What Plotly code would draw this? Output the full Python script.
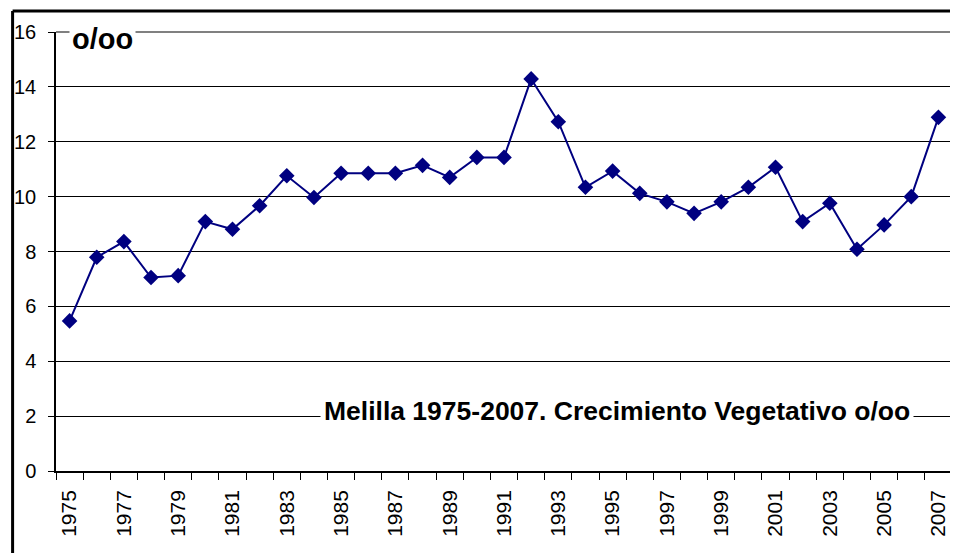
import plotly.graph_objects as go

years = list(range(1975, 2008))
values = [5.47, 7.79, 8.36, 7.05, 7.12, 9.09, 8.81, 9.67, 10.76, 9.97,
          10.85, 10.85, 10.85, 11.14, 10.70, 11.43, 11.43, 14.29, 12.73, 10.34,
          10.93, 10.12, 9.81, 9.39, 9.81, 10.34, 11.07, 9.09, 9.76, 8.08,
          8.97, 10.00, 12.89]
label_years = years[::2]
y_ticks = [0, 2, 4, 6, 8, 10, 12, 14, 16]
title_text = "Melilla 1975-2007. Crecimiento Vegetativo o/oo"
unit_text = "o/oo"

FONT = "Arial, Liberation Sans, sans-serif"
NAVY = "#000080"

fig = go.Figure()
fig.add_trace(go.Scatter(
    x=years, y=values, mode="lines+markers",
    line=dict(color=NAVY, width=2),
    marker=dict(symbol="diamond", size=12, color=NAVY),
    hoverinfo="x+y", showlegend=False,
))

# page body has an 8px margin; compensate so the plot area sits at
# window pixels x 54..952, y 32..471
OFF = 8
PL, PT, PR, PB = 54, 32, 952, 471
pw, ph = PR - PL, PB - PT
W, H = 958 - OFF, 553 - OFF
L, T = PL - OFF, PT - OFF
R, B = W - L - pw, H - T - ph

fig.update_layout(
    width=W, height=H,
    margin=dict(l=L, r=R, t=T, b=B, pad=0),
    paper_bgcolor="white", plot_bgcolor="white",
    font=dict(family=FONT, size=20, color="black"),
    xaxis=dict(
        range=[years[0] - 0.5, years[-1] + 0.5],
        tickmode="array", tickvals=label_years,
        ticktext=[str(y) for y in label_years],
        ticks="", tickangle=-90, tickfont=dict(size=21),
        ticklabelstandoff=9,
        showgrid=False, zeroline=False,
        showline=True, linecolor="black", linewidth=1.5,
        minor=dict(tickmode="array",
                   tickvals=[y - 0.5 for y in years] + [years[-1] + 0.5],
                   ticks="outside", ticklen=7, tickcolor="black", tickwidth=1,
                   showgrid=False),
    ),
    yaxis=dict(
        range=[0, 16], tickmode="array", tickvals=y_ticks,
        ticks="outside", ticklen=6, tickcolor="black", tickwidth=1,
        tickfont=dict(size=20), ticklabelstandoff=8,
        showgrid=True, gridcolor="black", gridwidth=1,
        zeroline=False,
        showline=True, linecolor="black", linewidth=1.5,
    ),
)

# plot area top and right border (gray)
fig.add_shape(type="line", xref="paper", yref="paper", x0=0, x1=1, y0=1, y1=1,
              line=dict(color="#808080", width=2))
fig.add_shape(type="line", xref="paper", yref="paper", x0=1, x1=1, y0=0, y1=1,
              line=dict(color="#808080", width=2))

# outer chart border (black), left and top
bx = (10.5 - PL) / pw
by = 1 + (PT - 11) / ph
fig.add_shape(type="line", xref="paper", yref="paper", x0=bx, x1=bx,
              y0=by, y1=-1, line=dict(color="black", width=3))
fig.add_shape(type="line", xref="paper", yref="paper", x0=bx, x1=1.2,
              y0=by, y1=by, line=dict(color="black", width=3))

fig.add_annotation(
    text="<b>" + unit_text + "</b>", xref="paper", yref="paper",
    x=(101 - PL) / pw, y=1 - (39 - PT) / ph, xanchor="center", yanchor="middle",
    showarrow=False, font=dict(size=29, family=FONT, color="black"),
    bgcolor="white", borderpad=2,
)
fig.add_annotation(
    text="<b>" + title_text + "</b>", xref="paper", yref="paper",
    x=(616 - PL) / pw, y=1 - (411 - PT) / ph, xanchor="center", yanchor="middle",
    showarrow=False, font=dict(size=26.5, family=FONT, color="black"),
    bgcolor="white", borderpad=3,
)

fig.write_html("out.html")
